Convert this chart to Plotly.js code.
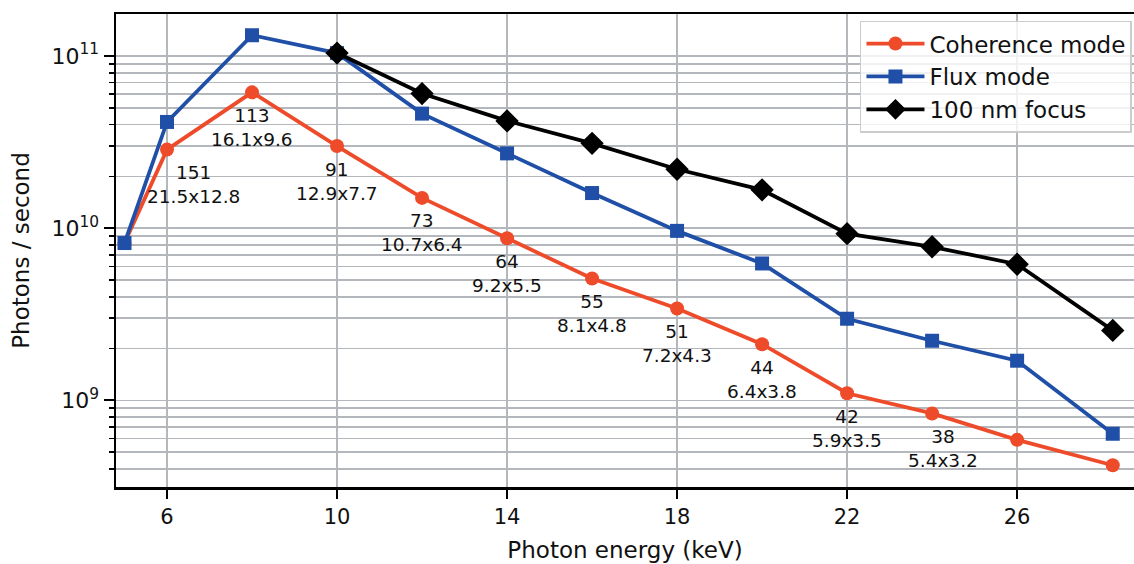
<!DOCTYPE html>
<html>
<head>
<meta charset="utf-8">
<script src="https://cdn.plot.ly/plotly-3.0.1.min.js"></script>
<style>html,body{margin:0;padding:0;background:#fff;}#chart{width:1134px;height:564px;}</style>
</head>
<body>
<div id="chart"></div>
<script>
// ---- data ----
const energyCoherence = [5, 6, 8, 10, 12, 14, 16, 18, 20, 22, 24, 26, 28.25];
const coherenceFlux   = [8.2e9, 2.86e10, 6.15e10, 3.0e10, 1.5e10, 8.75e9, 5.1e9, 3.42e9, 2.12e9, 1.1e9, 8.4e8, 5.9e8, 4.2e8];

const energyFluxMode  = [5, 6, 8, 10, 12, 14, 16, 18, 20, 22, 24, 26, 28.25];
const fluxModeFlux    = [8.2e9, 4.14e10, 1.32e11, 1.04e11, 4.63e10, 2.72e10, 1.6e10, 9.65e9, 6.24e9, 2.98e9, 2.22e9, 1.7e9, 6.4e8];

const energyFocus     = [10, 12, 14, 16, 18, 20, 22, 24, 26, 28.25];
const focusFlux       = [1.04e11, 6.05e10, 4.2e10, 3.11e10, 2.2e10, 1.67e10, 9.3e9, 7.8e9, 6.18e9, 2.55e9];

const labelEnergy = [6, 8, 10, 12, 14, 16, 18, 20, 22, 24];
const labelTop    = ["151", "113", "91", "73", "64", "55", "51", "44", "42", "38"];
const labelSize   = ["21.5x12.8", "16.1x9.6", "12.9x7.7", "10.7x6.4", "9.2x5.5", "8.1x4.8", "7.2x4.3", "6.4x3.8", "5.9x3.5", "5.4x3.2"];
const labelXShift = [26, 0, 0, 0, 0, 0, 0, 0, 0, 11];

const xTickVals = [6, 10, 14, 18, 22, 26];
const yTickVals = [1e9, 1e10, 1e11];
const yTickText = ["10<sup>9</sup>", "10<sup>10</sup>", "10<sup>11</sup>"];

// ---- styling ----
const FONT = "DejaVu Sans, Liberation Sans, sans-serif";
const ORANGE = "#ee4b2b";
const BLUE = "#1f4fa6";
const GRID = "#b4b8bc";

const minorVals = [];
for (let e = 8; e <= 11; e++) {
  for (let m = 2; m <= 9; m++) minorVals.push(m * Math.pow(10, e));
}

const traces = [
  {
    x: energyCoherence, y: coherenceFlux, name: "Coherence mode",
    mode: "lines+markers", type: "scatter",
    line: {color: ORANGE, width: 3.8},
    marker: {symbol: "circle", size: 14, color: ORANGE}
  },
  {
    x: energyFluxMode, y: fluxModeFlux, name: "Flux mode",
    mode: "lines+markers", type: "scatter",
    line: {color: BLUE, width: 3.8},
    marker: {symbol: "square", size: 14, color: BLUE}
  },
  {
    x: energyFocus, y: focusFlux, name: "100 nm focus",
    mode: "lines+markers", type: "scatter",
    line: {color: "#000000", width: 3.8},
    marker: {symbol: "diamond", size: 18, color: "#000000"}
  }
];

const annotations = labelEnergy.map((e, i) => {
  const idx = energyCoherence.indexOf(e);
  return {
    x: e, y: Math.log10(coherenceFlux[idx]),
    xref: "x", yref: "y",
    text: labelTop[i] + "<br>" + labelSize[i],
    showarrow: false,
    xshift: labelXShift[i], yshift: -35,
    font: {family: FONT, size: 18.5, color: "#111"},
    align: "center"
  };
});

const layout = {
  width: 1134, height: 564,
  margin: {l: 116, r: 0, t: 14, b: 77},
  paper_bgcolor: "#ffffff", plot_bgcolor: "#ffffff",
  font: {family: FONT, color: "#111"},
  showlegend: true,
  legend: {
    x: 0.998, xanchor: "right", y: 0.986, yanchor: "top",
    bgcolor: "rgba(255,255,255,0.8)", bordercolor: "#cccccc", borderwidth: 1.5,
    font: {family: FONT, size: 23, color: "#111"},
    itemwidth: 58, tracegroupgap: 0
  },
  xaxis: {
    range: [4.8, 28.75],
    tickmode: "array", tickvals: xTickVals,
    ticks: "outside", ticklen: 9, tickwidth: 2, tickcolor: "#000",
    showline: true, linecolor: "#000", linewidth: 2.5, mirror: true,
    showgrid: true, gridcolor: GRID, gridwidth: 1.6,
    zeroline: false,
    tickfont: {family: FONT, size: 21, color: "#111"},
    title: {text: "Photon energy (keV)", font: {family: FONT, size: 23, color: "#111"}, standoff: 14}
  },
  yaxis: {
    type: "log",
    range: [8.497, 11.244],
    tickmode: "array", tickvals: yTickVals, ticktext: yTickText,
    ticks: "outside", ticklen: 10, tickwidth: 2, tickcolor: "#000",
    showline: true, linecolor: "#000", linewidth: 2.5, mirror: false,
    showgrid: true, gridcolor: GRID, gridwidth: 1.6,
    zeroline: false,
    tickfont: {family: FONT, size: 22, color: "#111"},
    minor: {
      tickmode: "array", tickvals: minorVals,
      ticks: "outside", ticklen: 5, tickwidth: 1.6, tickcolor: "#000",
      showgrid: true, gridcolor: GRID, gridwidth: 1.6
    },
    title: {text: "Photons / second", font: {family: FONT, size: 23, color: "#111"}, standoff: 16}
  },
  annotations: annotations
};

Plotly.newPlot("chart", traces, layout, {displayModeBar: false, staticPlot: true});
</script>
</body>
</html>
